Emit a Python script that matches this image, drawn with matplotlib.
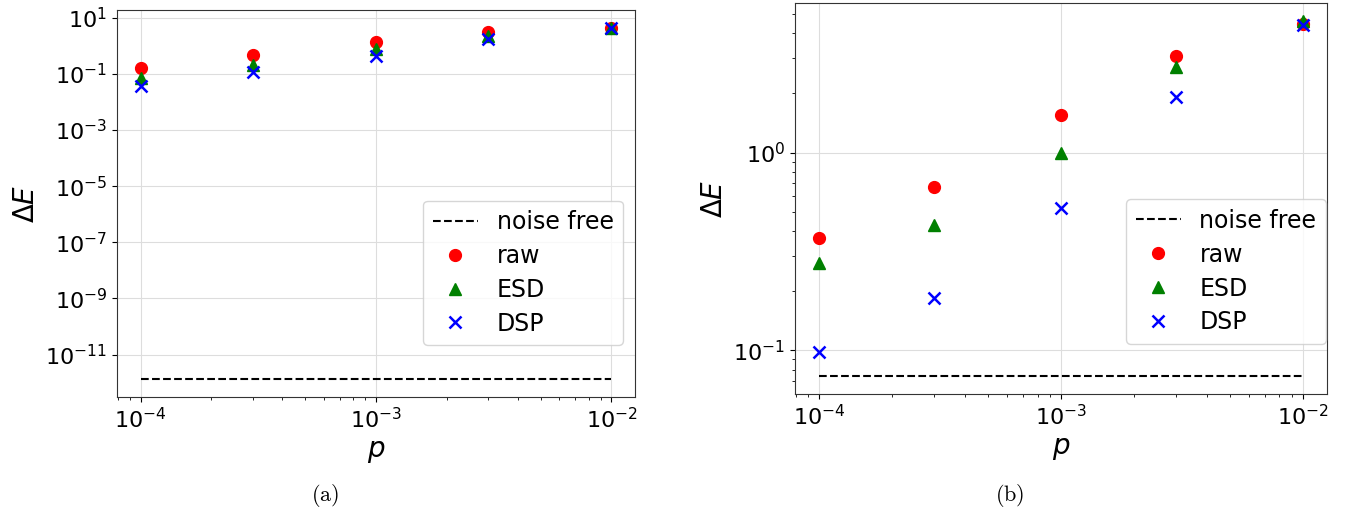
import matplotlib
matplotlib.use("Agg")
import matplotlib.pyplot as plt

# error rates
p = [1e-4, 3e-4, 1e-3, 3e-3, 1e-2]

# panel (a)
raw_a = [0.168, 0.48, 1.38, 3.2, 4.5]
esd_a = [0.072, 0.21, 0.77, 2.3, 4.4]
dsp_a = [0.037, 0.118, 0.44, 1.78, 4.3]
noise_free_a = 1.3e-12

# panel (b)
raw_b = [0.372, 0.673, 1.556, 3.09, 4.48]
esd_b = [0.278, 0.428, 0.99, 2.72, 4.64]
dsp_b = [0.098, 0.183, 0.527, 1.90, 4.43]
noise_free_b = 0.074

plt.rcParams['font.size'] = 16

fig = plt.figure(figsize=(13.51, 5.13), dpi=100)
ax1 = fig.add_axes([0.0866, 0.2261, 0.3834, 0.7544])
ax2 = fig.add_axes([0.5884, 0.2320, 0.3938, 0.7622])


def draw(ax, raw, esd, dsp, nf, anchor):
    ax.plot(p, [nf] * len(p), 'k--', lw=1.5, label='noise free')
    ax.plot(p, raw, 'o', color='red', ms=8.5, ls='', label='raw')
    ax.plot(p, esd, '^', color='green', ms=8.5, ls='', label='ESD')
    ax.plot(p, dsp, 'x', color='blue', ms=8.5, mew=1.8, ls='', label='DSP')
    ax.set_xscale('log')
    ax.set_yscale('log')
    ax.grid(True, color='#dddddd', lw=0.8)
    ax.set_axisbelow(True)
    ax.set_xlabel(r'$p$', fontsize=20)
    ax.set_ylabel(r'$\Delta E$', fontsize=20)
    ax.tick_params(labelsize=16)
    for s in ax.spines.values():
        s.set_color('#333333')
    ax.legend(loc='lower right', bbox_to_anchor=anchor, borderaxespad=0,
              fontsize=17, handlelength=1.9, labelspacing=0.42,
              handletextpad=0.8)


draw(ax1, raw_a, esd_a, dsp_a, noise_free_a, (0.977, 0.134))
draw(ax2, raw_b, esd_b, dsp_b, noise_free_b, (0.998, 0.128))

fig.text(0.2405, 0.035, r'$\mathrm{(a)}$', ha='center', va='center',
         fontsize=16, math_fontfamily='cm')
fig.text(0.7475, 0.035, r'$\mathrm{(b)}$', ha='center', va='center',
         fontsize=16, math_fontfamily='cm')

fig.savefig('out.png', dpi=100)
